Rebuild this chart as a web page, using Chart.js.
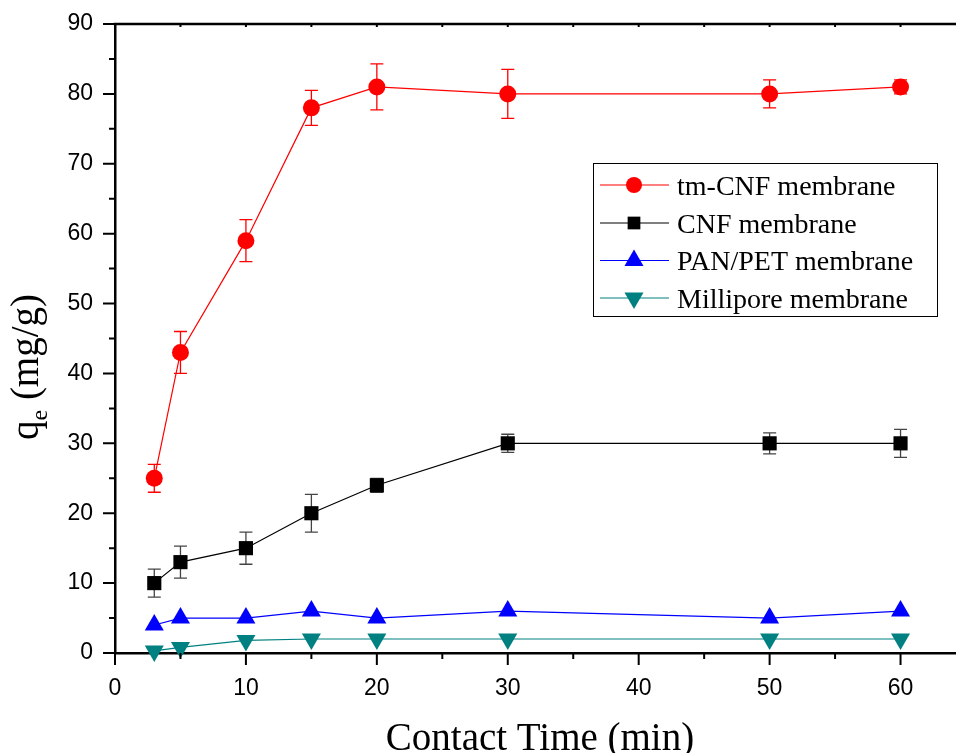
<!DOCTYPE html>
<html>
<head>
<meta charset="utf-8">
<script src="https://cdn.jsdelivr.net/npm/chart.js@4.4.0/dist/chart.umd.min.js"></script>
<style>
  html, body { margin: 0; padding: 0; background: #fff; overflow: hidden; }
  #wrap { width: 980px; height: 753px; }
</style>
</head>
<body>
<div id="wrap"><canvas id="c" width="980" height="753"></canvas></div>
<script>
// Contact time (min) and adsorption capacity q_e (mg/g) for each membrane
const contactTime = [3, 5, 10, 15, 20, 30, 50, 60];

const tmCnf      = [25, 43, 59, 78, 81, 80, 80, 81];
const tmCnfErr   = [2, 3, 3, 2.5, 3.3, 3.5, 2, 1];

const cnf        = [10, 13, 15, 20, 24, 30, 30, 30];
const cnfErr     = [2, 2.3, 2.3, 2.7, 1, 1.3, 1.5, 2];

const panPet     = [4, 5, 5, 6, 5, 6, 5, 6];
const millipore  = [0.3, 0.8, 1.8, 2, 2, 2, 2, 2];

const seriesLabels = ['tm-CNF membrane', 'CNF membrane', 'PAN/PET membrane', 'Millipore membrane'];

// Labelled tick values on each axis
const xTickLabels = [0, 10, 20, 30, 40, 50, 60];
const yTickLabels = [0, 10, 20, 30, 40, 50, 60, 70, 80, 90];

const toPoints = (ys) => contactTime.map((x, i) => ({ x: x, y: ys[i] }));

const SERIF = "'Liberation Serif', 'Times New Roman', serif";
const SANS = "'Liberation Sans', Arial, sans-serif";

// Shape painter for the legend swatches
function drawMarker(ctx, style, x, y, r, color, rotation) {
  ctx.save();
  ctx.fillStyle = color;
  ctx.beginPath();
  if (style === 'circle') {
    ctx.arc(x, y, r, 0, Math.PI * 2);
  } else if (style === 'rect') {
    const s = r * Math.SQRT1_2;
    ctx.rect(x - s, y - s, 2 * s, 2 * s);
  } else if (style === 'triangle') {
    let a = (rotation || 0) * Math.PI / 180;
    ctx.moveTo(x + Math.sin(a) * r, y - Math.cos(a) * r);
    a += 2 * Math.PI / 3;
    ctx.lineTo(x + Math.sin(a) * r, y - Math.cos(a) * r);
    a += 2 * Math.PI / 3;
    ctx.lineTo(x + Math.sin(a) * r, y - Math.cos(a) * r);
    ctx.closePath();
  }
  ctx.fill();
  ctx.restore();
}

// Vertical error bars with caps, drawn beneath the markers
const errorBars = {
  id: 'errorBars',
  beforeDatasetsDraw(chart) {
    const ctx = chart.ctx;
    const xs = chart.scales.x, ys = chart.scales.y;
    chart.data.datasets.forEach((ds) => {
      if (!ds.errors) return;
      ctx.save();
      ctx.strokeStyle = ds.errorColor;
      ctx.lineWidth = 1.3;
      ds.data.forEach((p, i) => {
        const e = ds.errors[i];
        const px = xs.getPixelForValue(p.x);
        const top = ys.getPixelForValue(p.y + e);
        const bot = ys.getPixelForValue(p.y - e);
        const cap = 6.5;
        ctx.beginPath();
        ctx.moveTo(px, top); ctx.lineTo(px, bot);
        ctx.moveTo(px - cap, top); ctx.lineTo(px + cap, top);
        ctx.moveTo(px - cap, bot); ctx.lineTo(px + cap, bot);
        ctx.stroke();
      });
      ctx.restore();
    });
  }
};

// Frame, tick marks, axis titles and legend box
const decorations = {
  id: 'decorations',
  afterDraw(chart) {
    const ctx = chart.ctx;
    const a = chart.chartArea;
    const xs = chart.scales.x, ys = chart.scales.y;
    ctx.save();
    ctx.strokeStyle = '#000';
    ctx.lineWidth = 2.5;

    // top and right frame lines
    ctx.beginPath();
    ctx.moveTo(a.left - 1.25, a.top);
    ctx.lineTo(a.right + 1.25, a.top);
    ctx.moveTo(a.right, a.top);
    ctx.lineTo(a.right, a.bottom);
    ctx.stroke();

    // x ticks (major every 10, minor every 5)
    ctx.lineWidth = 2;
    ctx.beginPath();
    for (let v = 0; v <= 65; v += 5) {
      const px = xs.getPixelForValue(v);
      const len = (v % 10 === 0) ? 12 : 6;
      ctx.moveTo(px, a.bottom);
      ctx.lineTo(px, a.bottom + len);
      ctx.moveTo(px, a.top);
      ctx.lineTo(px, a.top + 3);
    }
    // y ticks
    for (let v = 0; v <= 90; v += 5) {
      const py = ys.getPixelForValue(v);
      const len = (v % 10 === 0) ? 12 : 6;
      ctx.moveTo(a.left, py);
      ctx.lineTo(a.left - len, py);
    }
    ctx.stroke();

    // x-axis title
    ctx.fillStyle = '#000';
    ctx.font = '39px ' + SERIF;
    ctx.textAlign = 'center';
    ctx.textBaseline = 'alphabetic';
    ctx.fillText('Contact Time (min)', 540, 750);

    // y-axis title with subscript
    ctx.save();
    ctx.translate(38, 367);
    ctx.rotate(-Math.PI / 2);
    ctx.textAlign = 'left';
    const bigFont = '39px ' + SERIF, smallFont = '24px ' + SERIF;
    ctx.font = bigFont;
    const wq = ctx.measureText('q').width;
    const wRest = ctx.measureText(' (mg/g)').width;
    ctx.font = smallFont;
    const we = ctx.measureText('e').width;
    const total = wq + we + wRest;
    let tx = -total / 2;
    ctx.font = bigFont;
    ctx.fillText('q', tx, 0);
    tx += wq;
    ctx.font = smallFont;
    ctx.fillText('e', tx, 9);
    tx += we;
    ctx.font = bigFont;
    ctx.fillText(' (mg/g)', tx, 0);
    ctx.restore();

    // legend
    const box = { l: 593, t: 163, r: 937, b: 316 };
    ctx.lineWidth = 1;
    ctx.strokeStyle = '#000';
    ctx.strokeRect(box.l + 0.5, box.t + 0.5, box.r - box.l, box.b - box.t);
    const rows = [185, 223, 260.5, 298];
    ctx.font = '28px ' + SERIF;
    ctx.textAlign = 'left';
    chart.data.datasets.forEach((ds, i) => {
      const y = rows[i];
      ctx.strokeStyle = ds.borderColor;
      ctx.lineWidth = 1.2;
      ctx.beginPath();
      ctx.moveTo(600, y);
      ctx.lineTo(669, y);
      ctx.stroke();
      const style = ds.pointStyle;
      const r = style === 'circle' ? 8 : (style === 'rect' ? 9 : 11);
      drawMarker(ctx, style, 634, y, r, ds.pointBackgroundColor, ds.pointRotation);
      ctx.fillStyle = '#000';
      ctx.fillText(ds.label, 677, y + 9.5);
    });
    ctx.restore();
  }
};

new Chart(document.getElementById('c'), {
  type: 'line',
  data: {
    datasets: [
      {
        label: seriesLabels[0], data: toPoints(tmCnf), errors: tmCnfErr, errorColor: '#ff0000',
        borderColor: '#ff0000', borderWidth: 1.2, pointStyle: 'circle', pointRadius: 8.5,
        pointBackgroundColor: '#ff0000', pointBorderColor: '#ff0000', pointBorderWidth: 0
      },
      {
        label: seriesLabels[1], data: toPoints(cnf), errors: cnfErr, errorColor: '#444444',
        borderColor: '#000000', borderWidth: 1.2, pointStyle: 'rect', pointRadius: 10,
        pointBackgroundColor: '#000000', pointBorderColor: '#000000', pointBorderWidth: 0
      },
      {
        label: seriesLabels[2], data: toPoints(panPet),
        borderColor: '#0000ff', borderWidth: 1.2, pointStyle: 'triangle', pointRadius: 11,
        pointBackgroundColor: '#0000ff', pointBorderColor: '#0000ff', pointBorderWidth: 0
      },
      {
        label: seriesLabels[3], data: toPoints(millipore),
        borderColor: '#008080', borderWidth: 1.2, pointStyle: 'triangle', pointRotation: 180, pointRadius: 11,
        pointBackgroundColor: '#008080', pointBorderColor: '#008080', pointBorderWidth: 0
      }
    ]
  },
  options: {
    responsive: false,
    animation: false,
    devicePixelRatio: 1,
    clip: false,
    layout: { padding: { left: 0, top: 24, right: 14, bottom: 0 } },
    plugins: { legend: { display: false }, tooltip: { enabled: false } },
    elements: { line: { tension: 0 } },
    scales: {
      x: {
        type: 'linear', min: 0, max: 65,
        grid: { display: false, drawTicks: false },
        border: { display: true, color: '#000', width: 2.5 },
        ticks: {
          stepSize: 5, autoSkip: false, maxRotation: 0, padding: 22,
          color: '#000', font: { family: SANS, size: 23 },
          callback: (v) => xTickLabels.includes(v) ? String(v) : ''
        },
        afterFit: (s) => { s.height = 100; s.paddingLeft = 0; s.paddingRight = 0; }
      },
      y: {
        type: 'linear', min: 0, max: 90,
        grid: { display: false, drawTicks: false },
        border: { display: true, color: '#000', width: 2.5 },
        ticks: {
          stepSize: 5, autoSkip: false, padding: 22,
          color: '#000', font: { family: SANS, size: 23 },
          callback: (v) => yTickLabels.includes(v) ? String(v) : ''
        },
        afterFit: (s) => { s.width = 115; s.paddingTop = 0; s.paddingBottom = 0; }
      }
    }
  },
  plugins: [errorBars, decorations]
});
</script>
</body>
</html>
